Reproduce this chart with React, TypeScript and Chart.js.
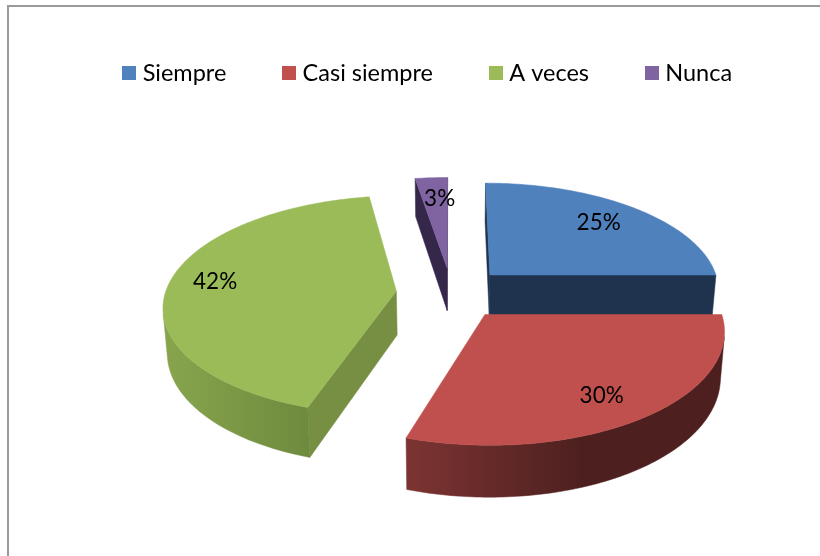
import React, { useEffect, useRef } from "react";
import { Chart, registerables } from "chart.js";

Chart.register(...registerables);

const categories = ["Siempre", "Casi siempre", "A veces", "Nunca"];
const shares = [25, 30, 42.4, 2.6];
const topColors = ["#4F81BD", "#C0504D", "#9BBB59", "#8064A2"];
const wallColors = ["#1F334F", "#4D201F", "#778F43", "#35274A"];
const rimFrom = ["#1F334F", "#7C3432", "#88A54D", "#35274A"];
const rimTo = ["#1F334F", "#4D201F", "#6E8A3E", "#35274A"];
const drawOrder = [3, 0, 2, 1];
const labelNudgeX = [-4, -3, -6, 5];
const labelNudgeY = [0, 4, -3, 2];

const FONT = "Lato";
const VIEW = { cx: 451.5, cy: 293, sx: 231, sy: 108, persp: 0.128, depth: 44, bottomScale: 0.985, explode: 0.24, labelAt: 0.77 };

type P = [number, number];

function project(u: number, v: number, low: boolean): P {
  const s = 1 / (1 - VIEW.persp * v);
  const k = low ? VIEW.bottomScale : 1;
  const x = VIEW.cx + VIEW.sx * u * s * k;
  const y = VIEW.cy + VIEW.sy * v * s + (low ? VIEW.depth * s : 0);
  return [x, y];
}

function quadArea(pts: P[]) {
  let a = 0;
  for (let i = 0; i < pts.length; i++) {
    const p = pts[i];
    const q = pts[(i + 1) % pts.length];
    a += p[0] * q[1] - q[0] * p[1];
  }
  return a / 2;
}

function fillPoly(ctx: CanvasRenderingContext2D, pts: P[], fill: string | CanvasGradient) {
  ctx.beginPath();
  pts.forEach((p, i) => (i ? ctx.lineTo(p[0], p[1]) : ctx.moveTo(p[0], p[1])));
  ctx.closePath();
  ctx.fillStyle = fill;
  ctx.fill();
  ctx.strokeStyle = fill;
  ctx.lineWidth = 0.5;
  ctx.stroke();
}

const pie3d = {
  id: "pie3d",
  beforeDatasetDraw() {
    return false;
  },
  afterDatasetsDraw(chart: any) {
    const ctx: CanvasRenderingContext2D = chart.ctx;
    const arcs = chart.getDatasetMeta(0).data;
    const slices = arcs.map((arc: any) => {
      const a0 = arc.startAngle + Math.PI / 2;
      const a1 = arc.endAngle + Math.PI / 2;
      const mid = (a0 + a1) / 2;
      return {
        a0,
        a1,
        mid,
        au: VIEW.explode * Math.sin(mid),
        av: -VIEW.explode * Math.cos(mid),
      };
    });

    ctx.save();
    for (const i of drawOrder) {
      const s = slices[i];
      const n = Math.max(4, Math.ceil(((s.a1 - s.a0) * 180) / Math.PI));
      const rim: [number, number][] = [];
      for (let k = 0; k <= n; k++) {
        const t = s.a0 + ((s.a1 - s.a0) * k) / n;
        rim.push([s.au + Math.sin(t), s.av - Math.cos(t)]);
      }
      const apex: [number, number] = [s.au, s.av];
      const top = (p: [number, number]) => project(p[0], p[1], false);
      const low = (p: [number, number]) => project(p[0], p[1], true);

      const wall = (a: [number, number], b: [number, number]) => {
        const q = [top(a), top(b), low(b), low(a)];
        if (quadArea(q) < 0) fillPoly(ctx, q, wallColors[i]);
      };
      wall(apex, rim[0]);
      wall(rim[n], apex);

      let first = -1;
      let last = -1;
      for (let k = 0; k < n; k++) {
        const q = [top(rim[k]), top(rim[k + 1]), low(rim[k + 1]), low(rim[k])];
        if (quadArea(q) < 0) {
          if (first < 0) first = k;
          last = k + 1;
        }
      }
      if (first >= 0) {
        const part = rim.slice(first, last + 1);
        const poly = [...part.map(top), ...part.slice().reverse().map(low)];
        const xs = poly.map((p) => p[0]);
        const xMin = Math.min(...xs);
        const xMax = Math.max(...xs);
        const g = ctx.createLinearGradient(xMin, 0, xMax, 0);
        g.addColorStop(0, rimFrom[i]);
        g.addColorStop(i === 1 ? 0.55 : 1, rimTo[i]);
        if (i === 1) g.addColorStop(1, rimTo[i]);
        fillPoly(ctx, poly, g);
      }
      fillPoly(ctx, [top(apex), ...rim.map(top)], arcs[i].options.backgroundColor);
    }

    ctx.fillStyle = "#000";
    ctx.font = `22.5px ${FONT}`;
    ctx.textAlign = "center";
    ctx.textBaseline = "middle";
    const data = chart.data.datasets[0].data;
    slices.forEach((s: any, i: number) => {
      const p = project(s.au + VIEW.labelAt * Math.sin(s.mid), s.av - VIEW.labelAt * Math.cos(s.mid), false);
      ctx.fillText(`${Math.round(data[i])}%`, p[0] + labelNudgeX[i], p[1] + labelNudgeY[i]);
    });
    ctx.restore();
  },
};

function swatch(color: string) {
  const c = document.createElement("canvas");
  c.width = 14;
  c.height = 14;
  const g = c.getContext("2d")!;
  g.fillStyle = color;
  g.fillRect(0, 0, 14, 14);
  return c;
}

export default function App() {
  const ref = useRef<HTMLCanvasElement>(null);
  useEffect(() => {
    const chart = new Chart(ref.current!, {
      type: "pie",
      data: {
        labels: categories,
        datasets: [{ data: shares, backgroundColor: topColors, borderWidth: 0 }],
      },
      options: {
        animation: false,
        responsive: false,
        devicePixelRatio: 1,
        layout: { padding: { top: 0, left: 40, right: 0, bottom: 40 } },
        plugins: {
          tooltip: { enabled: false },
          legend: {
            display: true,
            position: "top",
            labels: {
              usePointStyle: true,
              boxWidth: 3,
              padding: 61.5,
              color: "#000",
              font: { family: FONT, size: 23.5 },
              generateLabels: () =>
                categories.map((text, index) => ({
                  text,
                  index,
                  hidden: false,
                  fillStyle: topColors[index],
                  strokeStyle: topColors[index],
                  lineWidth: 0,
                  pointStyle: swatch(topColors[index]),
                })),
            },
          },
        },
      } as any,
      plugins: [pie3d as any],
    });
    return () => chart.destroy();
  }, []);
  return (
    <div style={{ position: "fixed", left: 0, top: 0, width: 820, height: 556, background: "#fff", overflow: "hidden" }}>
      <canvas ref={ref} width={820} height={556} style={{ display: "block" }} />
      <div
        style={{
          position: "absolute",
          left: 7,
          top: 5,
          right: 0,
          bottom: 0,
          borderLeft: "2px solid #9a9a9a",
          borderTop: "2px solid #9a9a9a",
          pointerEvents: "none",
        }}
      />
    </div>
  );
}
